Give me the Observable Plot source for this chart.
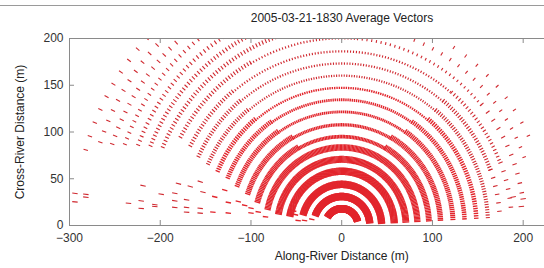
<!DOCTYPE html>
<html><head><meta charset="utf-8">
<script src="https://cdn.jsdelivr.net/npm/d3@7"></script>
<script src="https://cdn.jsdelivr.net/npm/@observablehq/plot@0.6"></script>
<style>
body{margin:0;background:#fff;font-family:"Liberation Sans",Arial,sans-serif;}
#wrap{position:relative;width:544px;height:268px;overflow:hidden;background:#fff;}
#topline{position:absolute;left:0;top:5px;width:544px;height:1px;background:#9a9a9a;}
#title{position:absolute;left:242px;width:200px;top:11px;text-align:center;font-size:12px;color:#222;}
#chart{position:absolute;left:0;top:0;}
</style></head>
<body>
<div id="wrap"><div id="chart"></div><div id="topline"></div><div id="title">2005-03-21-1830 Average Vectors</div></div>
<script>
// Range rings of the radar grid (m)
const ringRange = [14,27,40,54,67,80,93,106,120,133,146,159,172,185,199,212,225,238,252,265,278,291];
// Segments of vectors along each ring: ring index, start/end angle (deg), beam step (deg), vector length (m)
const segRing = [0,1,2,3,4,5, 6,6,6, 7,7,7, 8,8,8, 9,9,9, 10,10,10, 11,11,11, 12,12,12,12, 13,13,13,13, 14,14,14,14, 15,15, 16,16, 17,18,19,20,21];
const segFrom = [15,5,3,3,3,3, 3,60,120, 3,60,120, 3,55,125, 3,55,125, 3,50,130, 3,50,130, 5,20,50,130, 6,22,50,130, 10,40,85,120, 20,109, 25,117, 123,127,131,134,137];
const segTo   = [150,160,165,170,170,168, 60,120,165, 60,120,162, 55,125,160, 55,125,158, 50,130,157, 50,130,156, 20,50,130,155, 22,50,130,153, 40,85,120,152, 70,157, 60,158, 159,160,161,162,164];
const segStep = [1,1,1,1,1,1, 1,1,1, 1,1,1, 1,1,1, 1,1,1, 1,1,1, 1,1,1, 3,1,1,1, 3,1.2,1,1, 3,1.5,1,1, 3,1, 4,1, 1.2,1.5,2,2.5,3];
const segLen  = [8,8,8,8,7.5,7, 6.5,4,6.5, 6,3.5,6, 5.5,3,5.5, 5,3,5, 5,2.5,5, 4.5,2.5,4.5, 5,4.5,2.5,4.5, 5,4,2.5,4.5, 5,3,2.5,4.5, 4,4.5, 4,4.5, 4.5,4.5,5,5,5];
// Isolated vectors outside the dense rings (m)
const looseX = [-291,-291,-279,-279,-232,-218,-218,-203,-203,-216,-196,-181,-181,-181,-177,-168,-168,-168,-164,-153,-153,-153,-150,-137,-139,-126,-122,-122,-111,-104,-97,-97,-89,-81,-45,-38,-30,-50,-48,195,197,186];
const looseY = [34,25,33,30,23.5,26,18,22,20,42,33,34,26,19,44,27,19,14,41,46,18,13,35,30,14,37,24,13,25,21,18,13,14,9,5,5,6,15,11,20,28,30];
const looseLen = 6;
const xTicks = [-300,-200,-100,0,100,200];
const yTicks = [0,50,100,150,200];

const vecs = [];
segRing.forEach((ri, i) => {
  const r = ringRange[ri], L = segLen[i];
  for (let a = segFrom[i]; a <= segTo[i] + 1e-9; a += segStep[i]) {
    const t = a * Math.PI / 180, c = Math.cos(t), s = Math.sin(t);
    vecs.push({r, x1: r*c, y1: r*s, x2: (r+L)*c, y2: (r+L)*s});
  }
});
looseX.forEach((x, i) => {
  const y = looseY[i], r = Math.hypot(x, y), c = x / r, s = y / r;
  vecs.push({r, x1: x, y1: y, x2: x + looseLen*c, y2: y + looseLen*s});
});

const frameCol = "#8a8a8a";
const chart = Plot.plot({
  width: 544, height: 268,
  marginLeft: 69, marginRight: 0, marginTop: 38, marginBottom: 43,
  style: {fontFamily: "Liberation Sans, Arial, sans-serif", fontSize: "12px", color: "#333", background: "transparent"},
  x: {domain: [-300, 223.5]},
  y: {domain: [0, 200]},
  marks: [
    Plot.link(vecs.filter(d => d.r <= 150), {x1: "x1", y1: "y1", x2: "x2", y2: "y2", stroke: "#e2252c", strokeWidth: 1.4, clip: true}),
    Plot.link(vecs.filter(d => d.r > 150), {x1: "x1", y1: "y1", x2: "x2", y2: "y2", stroke: "#d0282f", strokeWidth: 1.1, clip: true}),
    Plot.ruleY([0, 200], {stroke: frameCol}),
    Plot.ruleX([-300], {stroke: frameCol}),
    Plot.ruleX(xTicks, {stroke: frameCol, insetTop: 182}),
    Plot.ruleX(xTicks, {stroke: frameCol, insetBottom: 182}),
    Plot.ruleY(yTicks, {stroke: frameCol, insetRight: 470}),
    Plot.axisX({ticks: xTicks, tickSize: 0, tickPadding: 8, label: null}),
    Plot.axisY({ticks: yTicks, tickSize: 0, tickPadding: 6, label: null}),
    Plot.text(["Along-River Distance (m)"], {x: 0, frameAnchor: "bottom", dy: 34, fill: "#222", fontSize: 12}),
    Plot.text(["Cross-River Distance (m)"], {frameAnchor: "left", dx: -49, rotate: -90, textAnchor: "middle", fill: "#222", fontSize: 12})
  ]
});
document.getElementById("chart").appendChild(chart);
</script>
</body></html>
